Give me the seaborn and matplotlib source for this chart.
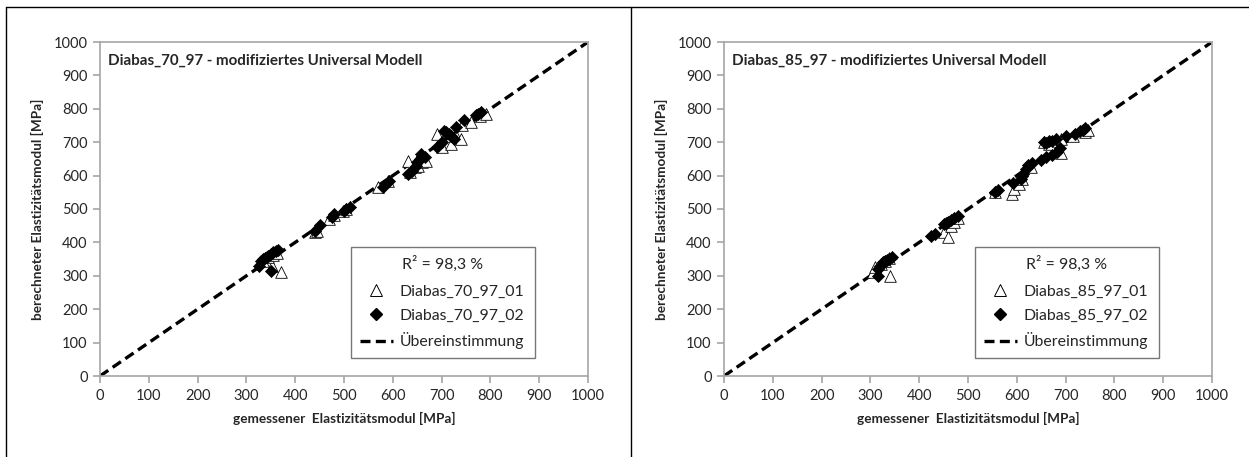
import numpy as np
import pandas as pd
import matplotlib
matplotlib.use("Agg")
import matplotlib.pyplot as plt
import seaborn as sns
from matplotlib.lines import Line2D

# --- Data ---
# Left panel: Diabas_70_97
d70_01_x = [352, 370, 335, 345, 355, 362, 440, 445, 470, 480, 498, 505, 570, 590,
            632, 635, 645, 652, 660, 668, 690, 700, 720, 730, 740, 742, 760, 778, 790]
d70_01_y = [330, 312, 345, 355, 362, 368, 430, 435, 470, 482, 495, 500, 565, 585,
            645, 610, 625, 630, 640, 645, 725, 685, 695, 720, 710, 750, 760, 778, 785]
d70_02_x = [325, 330, 334, 338, 342, 345, 350, 355, 360, 365, 350, 440, 450, 475,
            480, 500, 505, 512, 580, 592, 632, 640, 648, 650, 655, 658, 660, 665,
            690, 700, 705, 710, 715, 720, 725, 730, 745, 770, 775, 780]
d70_02_y = [330, 345, 350, 352, 357, 360, 365, 370, 375, 378, 315, 435, 452, 475,
            485, 495, 500, 507, 565, 585, 605, 615, 630, 640, 650, 665, 660, 655,
            685, 700, 735, 730, 725, 720, 710, 745, 765, 780, 785, 790]

# Right panel: Diabas_85_97
d85_01_x = [305, 310, 340, 322, 330, 338, 450, 460, 465, 472, 480, 555, 590, 595,
            605, 610, 630, 655, 665, 690, 690, 715, 740, 745]
d85_01_y = [310, 325, 300, 335, 345, 352, 430, 415, 448, 462, 472, 550, 545, 560,
            575, 590, 625, 700, 695, 710, 668, 720, 730, 738]
d85_02_x = [315, 315, 320, 325, 328, 330, 335, 338, 345, 425, 432, 450, 455, 458,
            465, 472, 480, 555, 562, 592, 608, 610, 612, 618, 622, 632, 650, 660,
            672, 682, 688, 655, 660, 665, 672, 680, 700, 720, 730, 735, 740]
d85_02_y = [300, 320, 330, 340, 342, 345, 348, 350, 355, 420, 426, 455, 458, 460,
            466, 472, 480, 550, 556, 578, 590, 600, 605, 620, 632, 638, 648, 655,
            662, 672, 682, 700, 698, 705, 703, 710, 718, 725, 735, 738, 742]

diag = [0, 1000]
ticks = list(range(0, 1001, 100))

panels = [
    ("Diabas_70_97", d70_01_x, d70_01_y, d70_02_x, d70_02_y),
    ("Diabas_85_97", d85_01_x, d85_01_y, d85_02_x, d85_02_y),
]

# --- Style ---
sns.set_theme(style="white")
plt.rcParams["font.family"] = ["Lato", "DejaVu Sans"]
GRAY = "#a6a6a6"
DASH = (0, (3, 1.6))

W, H = 1249, 457
fig = plt.figure(figsize=(W / 100, H / 100), dpi=100)

# outer frame and divider
fig.add_artist(Line2D([6 / W, 1], [1 - 7 / H, 1 - 7 / H], color="black", lw=1))
fig.add_artist(Line2D([6 / W, 6 / W], [0, 1 - 7 / H], color="black", lw=1))
fig.add_artist(Line2D([631 / W, 631 / W], [0, 1 - 7 / H], color="black", lw=1))

for i, (name, x1, y1, x2, y2) in enumerate(panels):
    left = 100 if i == 0 else 724
    ax = fig.add_axes([left / W, (H - 376) / H, 488 / W, 334 / H])

    sns.lineplot(x=diag, y=diag, ax=ax, color="black", lw=2.4,
                 linestyle=DASH, zorder=1)
    sns.scatterplot(x=x1, y=y1, ax=ax, marker="^", s=70, facecolor="white",
                    edgecolor="black", linewidth=0.6, zorder=2)
    sns.scatterplot(x=x2, y=y2, ax=ax, marker="D", s=38, color="black",
                    edgecolor="black", linewidth=0.5, zorder=3)

    ax.set_xlim(0, 1000)
    ax.set_ylim(0, 1000)
    ax.set_xticks(ticks)
    ax.set_yticks(ticks)
    for sp in ax.spines.values():
        sp.set_color(GRAY)
        sp.set_linewidth(1.2)
    ax.tick_params(axis="both", which="both", direction="out", length=5,
                   width=1.2, color=GRAY, labelsize=10.5, pad=4,
                   bottom=True, left=True)

    ax.set_xlabel("gemessener  Elastizitätsmodul [MPa]", fontsize=9.8,
                  fontweight="bold", labelpad=7)
    ax.set_ylabel("berechneter Elastizitätsmodul [MPa]", fontsize=9.8,
                  fontweight="bold", labelpad=7)
    ax.text(0.016, 0.945, f"{name} - modifiziertes Universal Modell",
            transform=ax.transAxes, fontsize=10.9, fontweight="bold",
            ha="left", va="center")

    handles = [
        Line2D([], [], marker="^", ls="none", markersize=8, markerfacecolor="white",
               markeredgecolor="black", markeredgewidth=0.7),
        Line2D([], [], marker="D", ls="none", markersize=6, color="black"),
        Line2D([], [], color="black", lw=2.4, linestyle=DASH),
    ]
    labels = [f"{name}_01", f"{name}_02", "Übereinstimmung"]
    leg = ax.legend(handles, labels, title="R² = 98,3 %", loc="lower left",
                    bbox_to_anchor=(0.514, 0.054, 0.377, 0.341), mode="expand",
                    fontsize=11.4, title_fontsize=11.4, frameon=True,
                    fancybox=False, borderpad=0.55, labelspacing=0.62,
                    handlelength=2.1, handletextpad=0.45, borderaxespad=0)
    leg.get_frame().set_edgecolor("#555555")
    leg.get_frame().set_linewidth(1.0)
    leg._legend_box.sep = 9

fig.savefig("out.png", dpi=100)
